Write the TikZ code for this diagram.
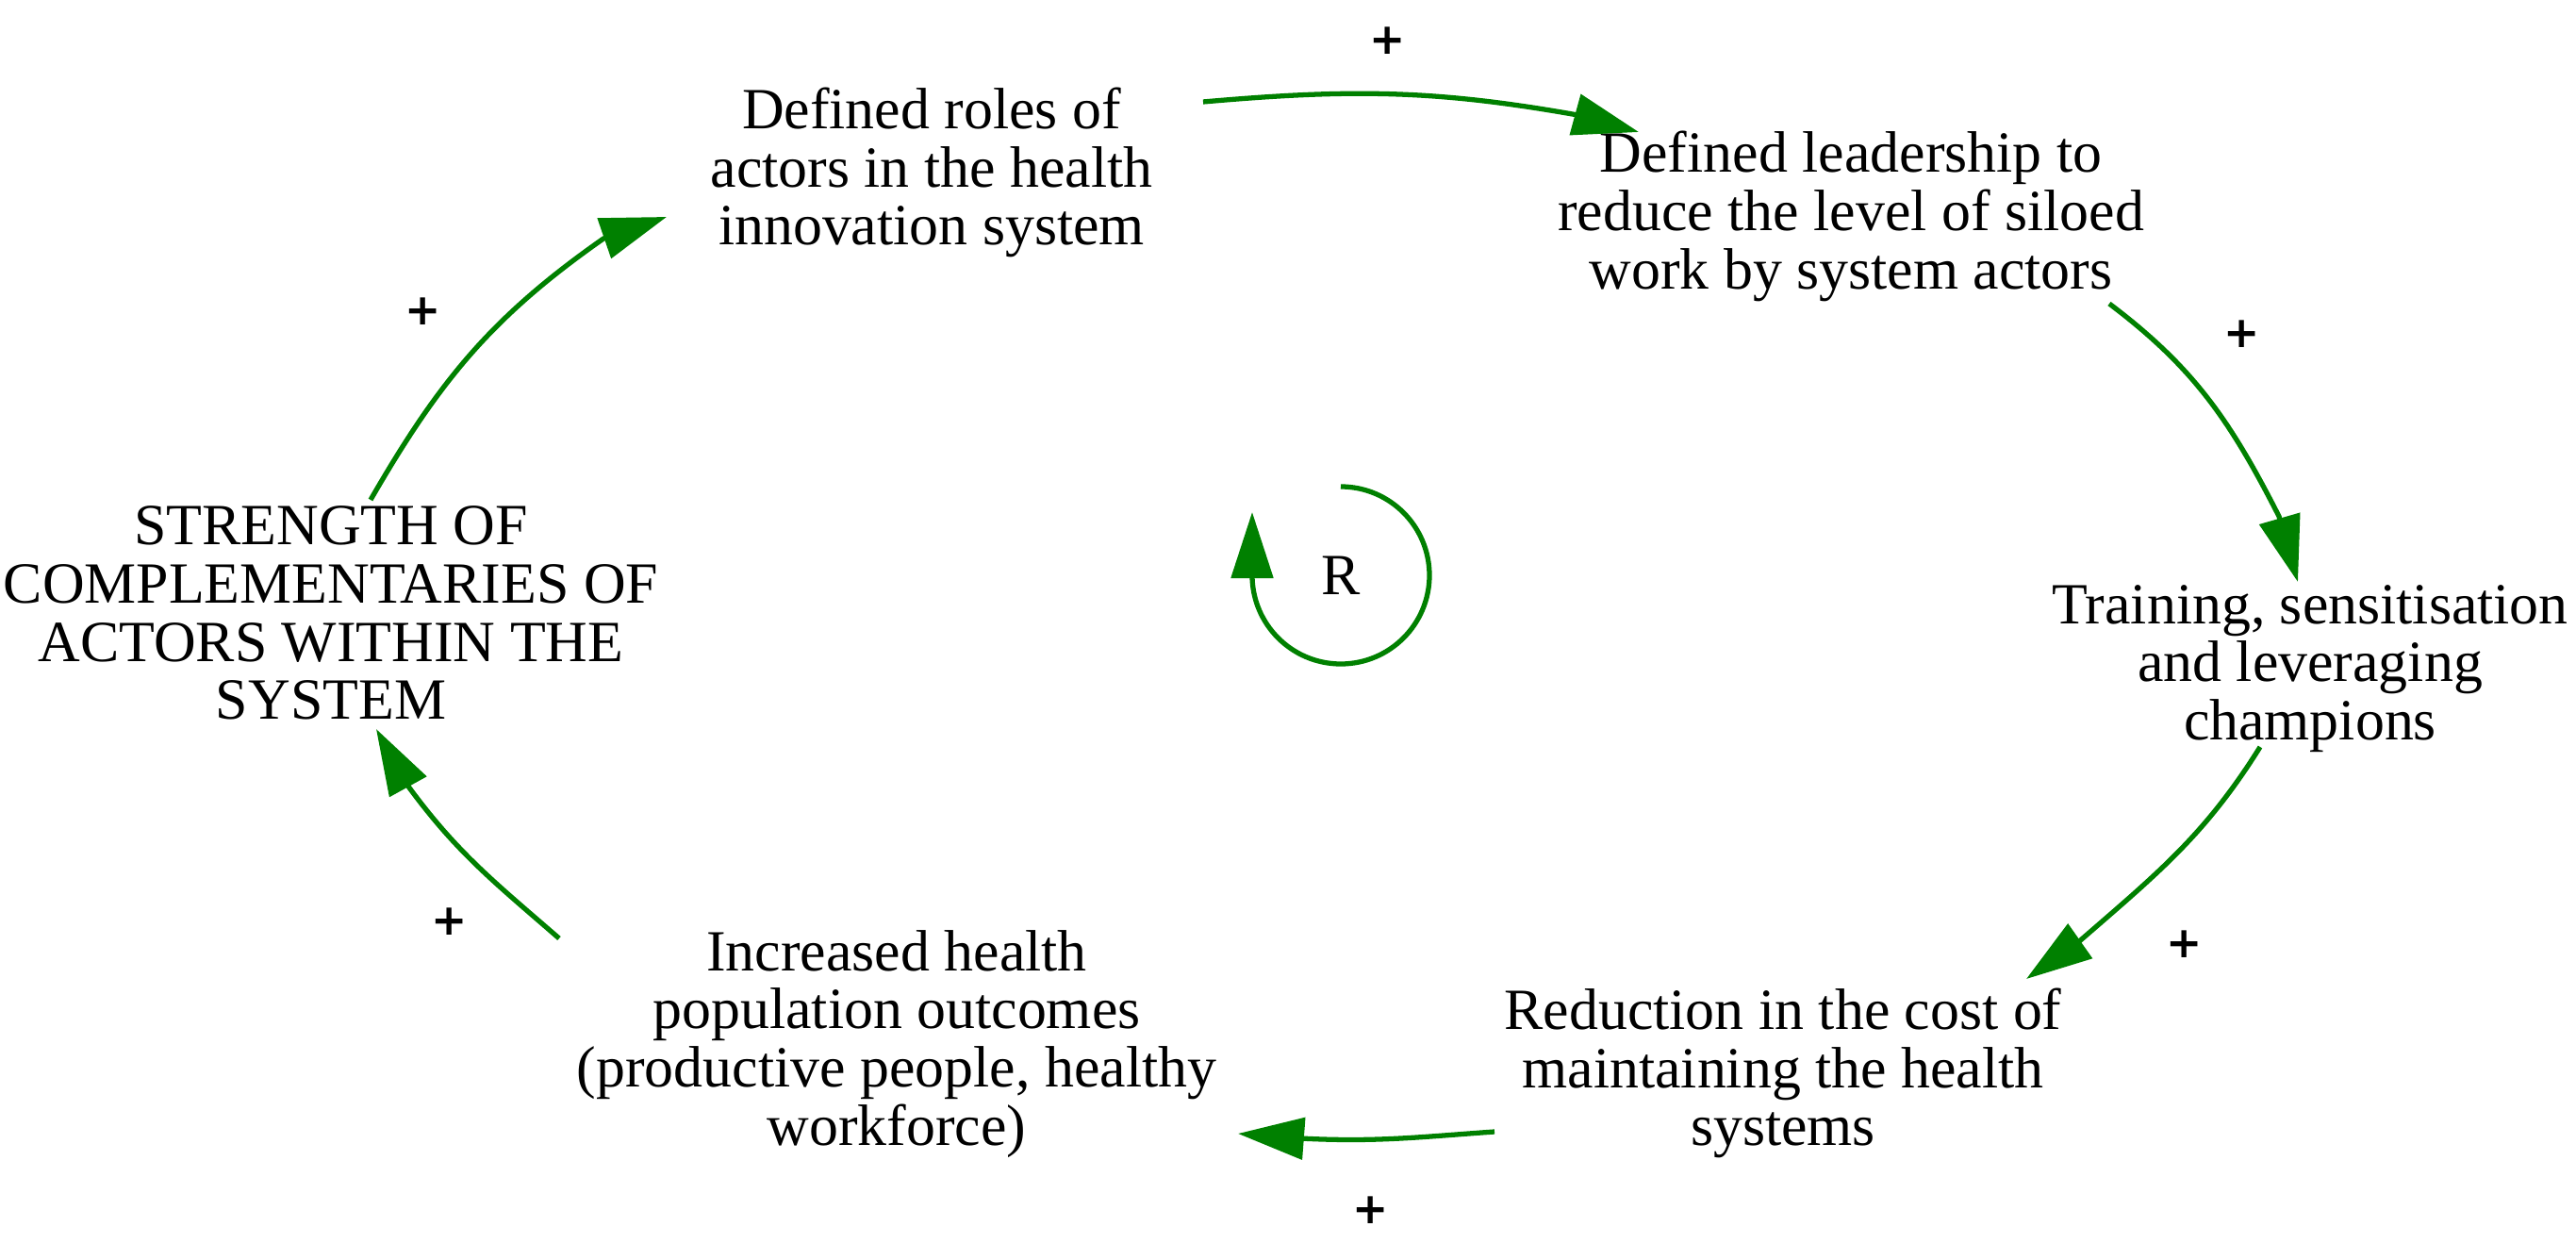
\documentclass[tikz,border=0pt]{standalone}
\usepackage{fontspec}
\setmainfont{Liberation Serif}
\newfontfamily\signfont{DejaVu Sans}
\usepackage{xcolor}
\usepackage{tikz}
\usetikzlibrary{arrows.meta}
\definecolor{loopgreen}{RGB}{0,128,0}
\tikzset{
  var/.style={align=center, inner sep=0pt, font=\fontsize{17.6}{17.6}\selectfont},
  link/.style={draw=loopgreen, line width=1.5pt, -{Triangle[length=7mm,width=4.4mm]}},
  pol/.style={inner sep=0pt, font=\signfont\bfseries\fontsize{13}{13}\selectfont},
}

\begin{document}
\begin{tikzpicture}
\useasboundingbox (0,0) rectangle (27.32,13.35);
\node[var] (roles) at (9.88,11.52) {Defined roles of\\actors in the health\\innovation system};
\node[var] (lead) at (19.63,11.055) {Defined leadership to\\reduce the level of siloed\\work by system actors};
\node[var] (train) at (24.50,6.26) {Training, sensitisation\\and leveraging\\champions};
\node[var] (cost) at (18.91,1.97) {Reduction in the cost of\\maintaining the health\\systems};
\node[var] (outcome) at (9.51,2.28) {Increased health\\population outcomes\\(productive people, healthy\\workforce)};
\node[var] (strength) at (3.51,6.85) {STRENGTH OF\\COMPLEMENTARIES OF\\ACTORS WITHIN THE\\SYSTEM};
\node[var] (r) at (14.22,7.25) {R};
% polarities
\node[pol] (p1) at (14.72,12.92) {+};
\node[pol] (p2) at (4.49,10.05) {+};
\node[pol] (p3) at (23.78,9.81) {+};
\node[pol] (p4) at (23.17,3.34) {+};
\node[pol] (p5) at (4.77,3.58) {+};
\node[pol] (p6) at (14.54,0.52) {+};
% links
\draw[link] ([xshift=4.2mm,yshift=12mm]strength.center) to[out=60, in=-145] ([xshift=-34.8mm,yshift=-7mm]roles.center) -- ++(0.67,0.23);
\draw[link] ([xshift=28.8mm,yshift=7.5mm]roles.center) to[out=5, in=170] ([xshift=-29.25mm,yshift=10.8mm]lead.center) -- ++(0.675,-0.185);
\draw[link] ([xshift=27.4mm,yshift=-9.25mm]lead.center) to[out=-37, in=117] ([xshift=-3.3mm,yshift=16.15mm]train.center) -- ++(0.2,-0.695);
\draw[link] ([xshift=-5.3mm,yshift=-8.3mm]train.center) to[out=-122, in=41] ([xshift=31.2mm,yshift=13.8mm]cost.center) -- ++(-0.54,-0.38);
\draw[link] ([xshift=-30.6mm,yshift=-6.2mm]cost.center) to[out=184, in=-3] ([xshift=42.8mm,yshift=-10mm]outcome.center) -- ++(-0.66,0.05);
\draw[link] ([xshift=-35.8mm,yshift=11.2mm]outcome.center) to[out=139, in=-54] ([xshift=8mm,yshift=-18.1mm]strength.center) -- ++(-0.32,0.58);
% loop marker
\draw[link] ([yshift=9.4mm]r.center) arc[start angle=90, end angle=-180, radius=9.4mm] -- ++(0,6.7mm);
\end{tikzpicture}
\end{document}
